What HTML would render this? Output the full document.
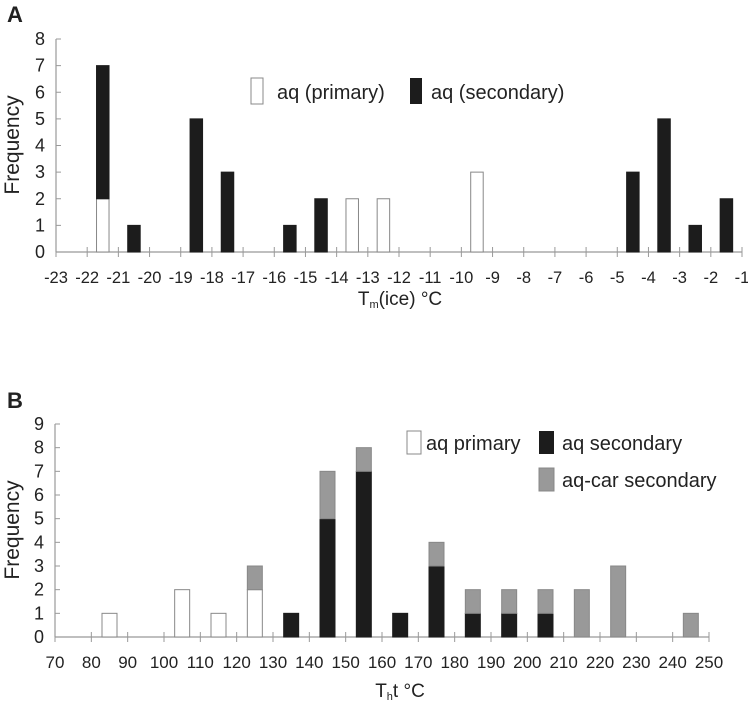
<!DOCTYPE html>
<html><head><meta charset="utf-8"><style>
html,body{margin:0;background:#fff;font-family:"Liberation Sans",sans-serif;overflow:hidden;width:748px;height:702px}
svg{display:block}
svg text{font-family:"Liberation Sans",sans-serif;fill:#222}
</style></head><body>
<svg width="748" height="702" style="position:absolute;left:0;top:0" xmlns="http://www.w3.org/2000/svg">
<g id="A"></g>
<g id="B"></g>
</svg>
<script>
// Chart A data
const aBins = [-21.5,-20.5,-18.5,-17.5,-15.5,-14.5,-13.5,-12.5,-9.5,-4.5,-3.5,-2.5,-1.5];
const aPrimary = [2,0,0,0,0,0,2,2,3,0,0,0,0];
const aSecondary = [5,1,5,3,1,2,0,0,0,3,5,1,2];
const aXTicks = [-23,-22,-21,-20,-19,-18,-17,-16,-15,-14,-13,-12,-11,-10,-9,-8,-7,-6,-5,-4,-3,-2,-1];
const aYTicks = [0,1,2,3,4,5,6,7,8];
// Chart B data
const bBins = [85,105,115,125,135,145,155,165,175,185,195,205,215,225,245];
const bPrimary = [1,2,1,2,0,0,0,0,0,0,0,0,0,0,0];
const bSecondary = [0,0,0,0,1,5,7,1,3,1,1,1,0,0,0];
const bCar = [0,0,0,1,0,2,1,0,1,1,1,1,2,3,1];
const bXTicks = [70,80,90,100,110,120,130,140,150,160,170,180,190,200,210,220,230,240,250];
const bYTicks = [0,1,2,3,4,5,6,7,8,9];

const NS="http://www.w3.org/2000/svg";
function mk(p,tag,at){const e=document.createElementNS(NS,tag);for(const k in at)e.setAttribute(k,at[k]);p.appendChild(e);return e;}

function chart(g,o){
  const sx=v=>o.x0+(v-o.xmin)/(o.xmax-o.xmin)*(o.x1-o.x0);
  const sy=v=>o.y0-(v-o.ymin)/(o.ymax-o.ymin)*(o.y0-o.y1);
  let ya=mk(g,'line',{x1:o.x0,y1:o.y0,x2:o.x0,y2:o.y1,stroke:'#999','stroke-width':1.2});
  
  
  let xa=mk(g,'line',{x1:o.x0,y1:o.y0,x2:o.x1,y2:o.y0,stroke:'#999','stroke-width':1.2});
  
  
  o.yt.forEach(v=>{
    mk(g,'line',{x1:o.x0,y1:sy(v),x2:o.x0+5,y2:sy(v),stroke:'#999'});
    let t=mk(g,'text',{x:o.x0-11,y:sy(v)+6,'font-size':18,'text-anchor':'end'});t.textContent=v;
    
    
  });
  o.xt.forEach(v=>{
    mk(g,'line',{x1:sx(v),y1:o.y0-5,x2:sx(v),y2:o.y0+5,stroke:'#999'});
    let t=mk(g,'text',{x:sx(v),y:o.y0+o.tdy,'font-size':o.tfs,'text-anchor':'middle'});t.textContent=v;
    
    
  });
  o.bins.forEach((b,i)=>{
    let base=0;
    o.series.forEach(s=>{
      const v=s.vals[i]; if(!v) return;
      const r=mk(g,'rect',{x:sx(b)-o.bw/2,y:sy(base+v),width:o.bw,height:sy(base)-sy(base+v),fill:s.fill,stroke:s.stroke,'stroke-width':1});
      
      
      base+=v;
    });
  });
}
chart(document.getElementById('A'),{x0:56,x1:742,xmin:-23,xmax:-1,y0:252,y1:39,ymin:0,ymax:8,xt:aXTicks,yt:aYTicks,bins:aBins,bw:12.5,tdy:31,tfs:16.5,
 series:[{name:'primary',vals:aPrimary,fill:'#fff',stroke:'#888'},{name:'secondary',vals:aSecondary,fill:'#1c1c1c',stroke:'#1c1c1c'}]});
chart(document.getElementById('B'),{x0:55,x1:709,xmin:70,xmax:250,y0:637,y1:424,ymin:0,ymax:9,xt:bXTicks,yt:bYTicks,bins:bBins,bw:15,tdy:31,tfs:17,
 series:[{name:'primary',vals:bPrimary,fill:'#fff',stroke:'#888'},{name:'secondary',vals:bSecondary,fill:'#1c1c1c',stroke:'#1c1c1c'},{name:'car-secondary',vals:bCar,fill:'#999',stroke:'#888'}]});
</script>
<svg width="748" height="702" style="position:absolute;left:0;top:0" xmlns="http://www.w3.org/2000/svg">
<text x="7" y="22" font-size="22" font-weight="bold">A</text>
<text x="19" y="145" font-size="21" text-anchor="middle" transform="rotate(-90 19 145)">Frequency</text>
<text x="400" y="305" font-size="19" text-anchor="middle">T<tspan font-size="11" dy="3">m</tspan><tspan dy="-3">(ice) °C</tspan></text>
<g>
<rect x="251" y="78" width="12" height="26" fill="#fff" stroke="#888"/>
<text x="277" y="99" font-size="20">aq (primary)</text>
<rect x="410" y="78" width="12" height="26" fill="#1c1c1c"/>
<text x="431" y="99" font-size="20">aq (secondary)</text>
</g>
<text x="7" y="408" font-size="22" font-weight="bold">B</text>
<text x="19" y="530" font-size="21" text-anchor="middle" transform="rotate(-90 19 530)">Frequency</text>
<text x="400" y="697" font-size="19" text-anchor="middle">T<tspan font-size="11" dy="3">h</tspan><tspan dy="-3">t °C</tspan></text>
<g>
<rect x="407" y="431" width="14" height="23" fill="#fff" stroke="#888"/>
<text x="426" y="450" font-size="20">aq primary</text>
<rect x="539" y="431" width="15" height="23" fill="#1c1c1c"/>
<text x="562" y="450" font-size="20">aq secondary</text>
<rect x="539" y="468" width="15" height="23" fill="#999" stroke="#888"/>
<text x="562" y="487" font-size="20">aq-car secondary</text>
</g>
</svg>
</body></html>
